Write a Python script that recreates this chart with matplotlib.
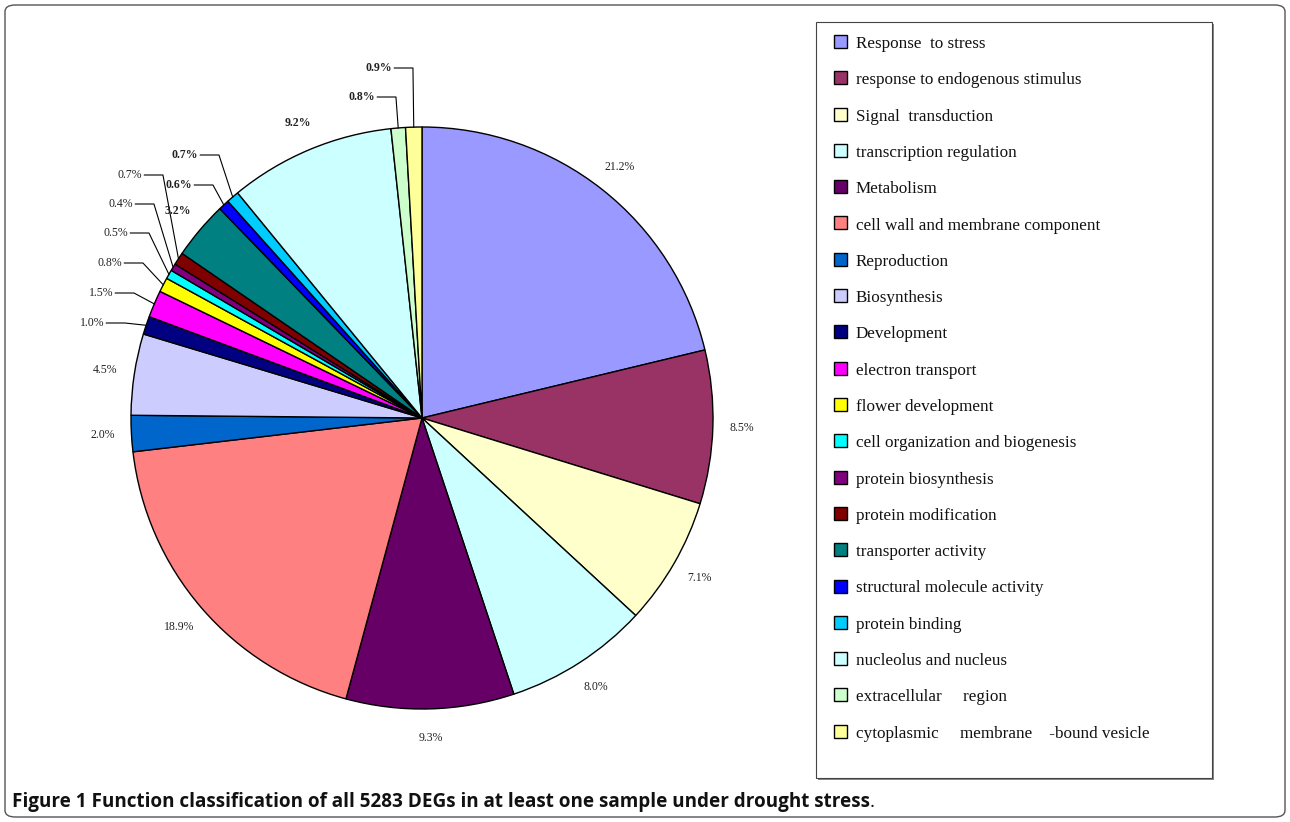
import numpy as np
import matplotlib
matplotlib.use("Agg")
import matplotlib.pyplot as plt
from matplotlib.patches import Rectangle, FancyBboxPatch

# categories, shares (%) and colours, clockwise from 12 o'clock
categories = [
    "Response  to stress", "response to endogenous stimulus", "Signal  transduction",
    "transcription regulation", "Metabolism", "cell wall and membrane component",
    "Reproduction", "Biosynthesis", "Development", "electron transport",
    "flower development", "cell organization and biogenesis", "protein biosynthesis",
    "protein modification", "transporter activity", "structural molecule activity",
    "protein binding", "nucleolus and nucleus", "extracellular     region",
    "cytoplasmic     membrane    -bound vesicle",
]
shares = [21.2, 8.5, 7.1, 8.0, 9.3, 18.9, 2.0, 4.5, 1.0, 1.5,
          0.8, 0.5, 0.4, 0.7, 3.2, 0.6, 0.7, 9.2, 0.8, 0.9]
colors = ["#9999FF", "#993366", "#FFFFCC", "#CCFFFF", "#660066", "#FF8080",
          "#0066CC", "#CCCCFF", "#000080", "#FF00FF", "#FFFF00", "#00FFFF",
          "#800080", "#800000", "#008080", "#0000FF", "#00CCFF", "#CCFFFF",
          "#CCFFCC", "#FFFF99"]
bold_labels = ["transporter activity", "structural molecule activity", "protein binding",
               "nucleolus and nucleus", "extracellular     region",
               "cytoplasmic     membrane    -bound vesicle"]

# small slices get a label off to the side with a leader line (pixel position of text end)
leader_pos = {
    "Development": (104, 323),
    "electron transport": (113, 293),
    "flower development": (122, 263),
    "cell organization and biogenesis": (128, 233),
    "protein biosynthesis": (133, 204),
    "protein modification": (142, 175),
    "structural molecule activity": (192, 185),
    "protein binding": (198, 155),
    "extracellular     region": (375, 97),
    "cytoplasmic     membrane    -bound vesicle": (392, 68),
}

W, H = 1290, 822
CX, CY, R = 422, 418, 291

fig = plt.figure(figsize=(W / 100, H / 100), dpi=100)

# outer frame
fig.patches.append(FancyBboxPatch((5 / W, 5 / H), 1280 / W, 812 / H,
                                  boxstyle="round,pad=0,rounding_size=0.008",
                                  transform=fig.transFigure, fill=False,
                                  edgecolor="#555555", linewidth=1.0))

ax = fig.add_axes([(CX - R) / W, (H - CY - R) / H, 2 * R / W, 2 * R / H])
ax.pie(shares, colors=colors, startangle=90, counterclock=False, radius=1,
       wedgeprops=dict(edgecolor="black", linewidth=1.0))
ax.set_xlim(-1, 1)
ax.set_ylim(-1, 1)
ax.set_aspect("auto")
ax.axis("off")


def px2data(px, py):
    return (px - CX) / R, (CY - py) / R


total = sum(shares)
cum = 0.0
for cat, v in zip(categories, shares):
    mid = np.deg2rad(90 - 360 * (cum + v / 2) / total)
    cum += v
    weight = "bold" if cat in bold_labels else "normal"
    txt = f"{v:.1f}%"
    if cat in leader_pos:
        tx, ty = px2data(*leader_pos[cat])
        ex, ey = np.cos(mid), np.sin(mid)
        ax.text(tx, ty, txt, ha="right", va="center", fontsize=8.5,
                family="Liberation Serif", weight=weight, color="#222222")
        ax.plot([tx + 0.008, tx + 0.072, ex], [ty, ty, ey], color="black",
                lw=0.8, clip_on=False)
    else:
        d = 1.1
        ax.text(d * np.cos(mid), d * np.sin(mid), txt, ha="center", va="center",
                fontsize=8.5, family="Liberation Serif", weight=weight,
                color="#222222")

# legend box
lx0, ly0, lx1, ly1 = 816, 22, 1212, 778
fig.patches.append(Rectangle((lx0 / W + 2 / W, (H - ly1) / H - 2 / H), (lx1 - lx0) / W,
                             (ly1 - ly0) / H, transform=fig.transFigure,
                             facecolor="#888888", edgecolor="none"))
fig.patches.append(Rectangle((lx0 / W, (H - ly1) / H), (lx1 - lx0) / W,
                             (ly1 - ly0) / H, transform=fig.transFigure,
                             facecolor="white", edgecolor="#444444", linewidth=0.8))
row0, step = 44, 36.3
for i, (cat, c) in enumerate(zip(categories, colors)):
    yc = row0 + i * step
    fig.patches.append(Rectangle((834 / W, (H - yc - 4) / H), 13 / W, 13 / H,
                                 transform=fig.transFigure, facecolor=c,
                                 edgecolor="black", linewidth=1.0))
    fig.text(856 / W, (H - yc) / H, cat, ha="left", va="center", fontsize=12.3,
             family="Liberation Serif", color="#111111")

# caption
cap = fig.text(12 / W, (H - 802) / H,
               "Figure 1 Function classification of all 5283 DEGs in at least one sample under drought stress",
               ha="left", va="center", fontsize=13.6, family="Open Sans", weight="bold",
               color="#111111")
fig.canvas.draw()
bb = cap.get_window_extent()
fig.text(bb.x1 / W, (H - 802) / H, ".", ha="left", va="center", fontsize=13.6,
         family="Open Sans", color="#111111")

fig.savefig("out.png", dpi=100)
